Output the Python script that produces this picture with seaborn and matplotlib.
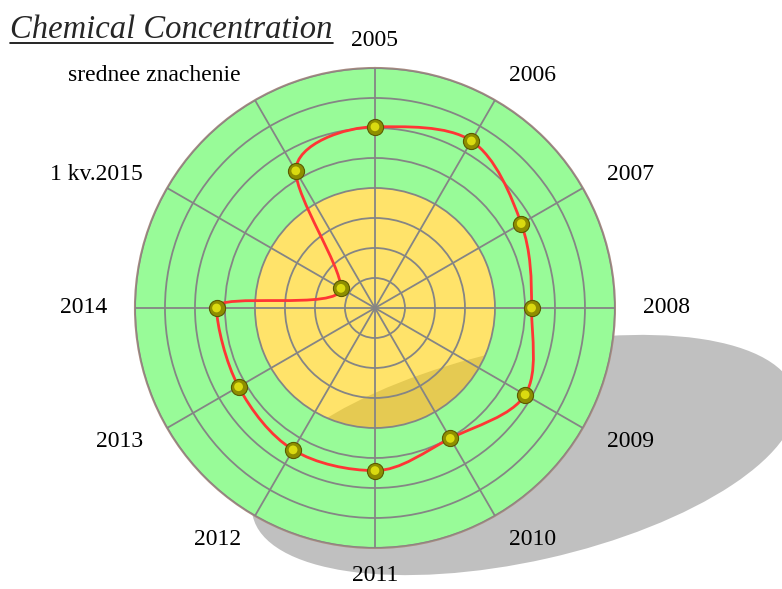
import numpy as np
import pandas as pd
import matplotlib
matplotlib.use("Agg")
import matplotlib.pyplot as plt
import seaborn as sns
from matplotlib.patches import Ellipse, Circle, PathPatch
from matplotlib.path import Path
from matplotlib.lines import Line2D

# categories clockwise from the top
categories = ["2005", "2006", "2007", "2008", "2009", "2010", "2011",
              "2012", "2013", "2014", "1 kv.2015", "srednee znachenie"]
values = [60.4, 64.3, 56.3, 52.2, 57.8, 50.2, 54.2, 54.6, 52.5, 52.8, 13.1, 52.8]
ring_ticks = [10, 20, 30, 40, 50, 60, 70, 80]
r_max = 80
yellow_limit = 40

sns.set_style("white")
serif = ["Liberation Serif", "DejaVu Serif"]


def smooth_closed_path(theta, r):
    # closed smooth Bezier through the points (tangent flat at x/y extremes)
    x, y = r * np.sin(theta), r * np.cos(theta)
    n = len(x)

    def tangents(v):
        d = np.roll(v, -1) - v
        dp = v - np.roll(v, 1)
        m = np.where(d * dp > 0, (d + dp) / 2, 0.0)
        return m

    mx, my = tangents(x), tangents(y)
    verts = [(x[0], y[0])]
    codes = [Path.MOVETO]
    for i in range(n):
        j = (i + 1) % n
        verts += [(x[i] + mx[i] / 3, y[i] + my[i] / 3),
                  (x[j] - mx[j] / 3, y[j] - my[j] / 3),
                  (x[j], y[j])]
        codes += [Path.CURVE4] * 3
    verts = np.array(verts)
    th = np.arctan2(verts[:, 0], verts[:, 1])
    rr = np.hypot(verts[:, 0], verts[:, 1])
    return Path(np.column_stack([th, rr]), codes)


fig = plt.figure(figsize=(7.82, 5.89), dpi=100)

# shadow behind the dial
shadow_kw = dict(xy=(5.24, 1.34), width=5.56, height=2.12, angle=12.7,
                 transform=fig.dpi_scale_trans, edgecolor="none")
fig.add_artist(Ellipse(facecolor="#c0c0c0", zorder=-1, **shadow_kw))

ax = fig.add_axes([0.1726, 0.0696, 0.6138, 0.815], projection="polar")
ax.set_theta_zero_location("N")
ax.set_theta_direction(-1)
ax.set_facecolor("#98fb98")
ax.set_ylim(0, r_max)
ax.set_axisbelow(False)

# inner yellow zone
ax.bar(0, yellow_limit, width=2 * np.pi, bottom=0, color="#ffe36a",
       edgecolor="none", linewidth=0, zorder=1)
# part of the shadow seen through the yellow zone
dark = Ellipse(facecolor="#e5ca52", zorder=1.2, **shadow_kw)
ax.add_artist(dark)
dark.set_clip_path(Circle((0.5, 0.5), 0.25, transform=ax.transAxes))

theta = np.deg2rad(np.arange(len(categories)) * 30)
ax.set_thetagrids(np.arange(len(categories)) * 30, [""] * len(categories))
ax.set_rgrids(ring_ticks, [""] * len(ring_ticks))
ax.grid(True, color="#858585", linewidth=1.3)
ax.spines["polar"].set_color("#a88a80")
ax.spines["polar"].set_linewidth(1.5)

curve = PathPatch(smooth_closed_path(theta, np.array(values)), transform=ax.transData,
                  facecolor="none", edgecolor="#ff3535", linewidth=2.0, zorder=3)
ax.add_patch(curve)

pts = pd.DataFrame({"theta": theta, "value": values})
sns.scatterplot(data=pts, x="theta", y="value", ax=ax, s=135, color="#8e8e00",
                edgecolor="#5a5a00", linewidth=0.8, zorder=4)
sns.scatterplot(data=pts, x="theta", y="value", ax=ax, s=40, color="#dada10",
                edgecolor="none", zorder=5)
ax.set_xlabel("")
ax.set_ylabel("")
ax.set_ylim(0, r_max)

# category labels around the dial
for t, lab in zip(np.arange(len(categories)) * 30, categories):
    if t in (0, 180):
        ha = "center"
    elif t < 180:
        ha = "left"
    else:
        ha = "right"
    ax.text(np.deg2rad(t), 89.3, lab, ha=ha, va="center", fontsize=17,
            family=serif, color="black", clip_on=False)

title = fig.text(0.013, 1 - 38 / 589, "Chemical Concentration", fontsize=23.5,
                 style="italic", family=serif, va="baseline", ha="left")
fig.canvas.draw()
bb = title.get_window_extent()
y_line = (589 - 42.5) / 589
fig.add_artist(Line2D([bb.x0 / 782, bb.x1 / 782], [y_line, y_line],
                      transform=fig.transFigure, color="black", linewidth=1.2))

fig.savefig("out.png", dpi=100)
